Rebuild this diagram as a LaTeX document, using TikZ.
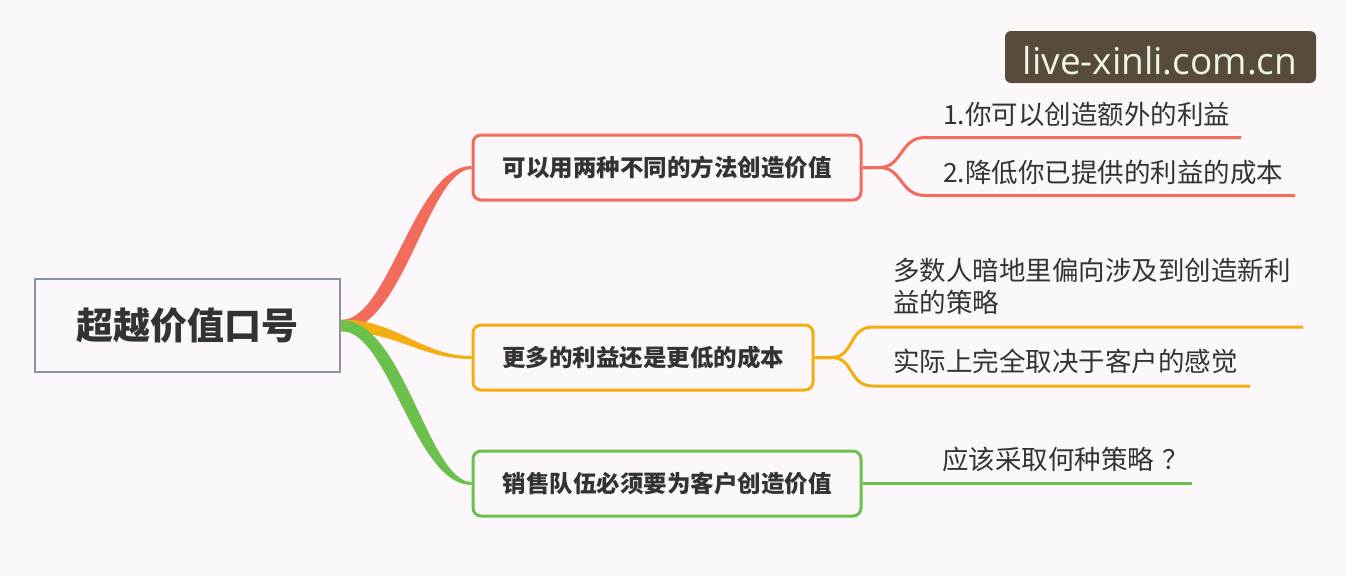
\documentclass[tikz,border=0pt]{standalone}
\usepackage{fontspec}
\newfontfamily\cjk{Noto Sans CJK SC}
\newfontfamily\wmfont{Open Sans}
\usetikzlibrary{calc}
\definecolor{bg}{HTML}{FBF7FA}
\definecolor{cred}{HTML}{F26B5B}
\definecolor{corg}{HTML}{F6AD12}
\definecolor{cgrn}{HTML}{6CC04C}
\definecolor{cgray}{HTML}{8893A4}
\definecolor{txt}{HTML}{333333}
\definecolor{wmbg}{HTML}{574C3B}
\definecolor{wmfg}{HTML}{EEF5E6}
\newcommand\branchtaper[5]{%
  \fill[#3] ($(#1)+(0,-#5)$) .. controls ($(#1)+({55+(#4)},-#5)$) and ($(#2)+({-50+(#4)},-1.5)$) .. ($(#2)+(0,-1.5)$)
    -- ($(#2)+(0,1.5)$) .. controls ($(#2)+({-50-(#4)},1.5)$) and ($(#1)+({55-(#4)},#5)$) .. ($(#1)+(0,#5)$) -- cycle;}
\begin{document}
\begin{tikzpicture}[x=1pt,y=-1pt,
  rootbox/.style={draw=cgray, line width=2.5pt, fill=bg, minimum width=305pt, minimum height=93pt, inner sep=0pt,
    font=\cjk\bfseries\fontsize{37}{40}\selectfont, text=txt},
  branchbox/.style={draw=#1, line width=3pt, rounded corners=8pt, fill=bg, minimum height=65pt, inner sep=0pt,
    font=\cjk\bfseries\fontsize{23.5}{26}\selectfont, text=txt},
  leaf/.style={anchor=west, inner sep=0pt, font=\cjk\fontsize{26.5}{32}\selectfont, text=txt, align=left},
  leafline/.style={draw=#1, line width=3pt},
]
\fill[bg] (0,0) rectangle (1346,576);
\useasboundingbox (0,0) rectangle (1346,576);

% nodes
\node[rootbox] (root) at (187.5,325.5) {};
\node[branchbox=cred, minimum width=388pt] (b1) at (667,167.5) {可以用两种不同的方法创造价值};
\node[branchbox=corg, minimum width=340pt] (b2) at (643,357.5) {更多的利益还是更低的成本};
\node[branchbox=cgrn, minimum width=388pt] (b3) at (667,483.5) {销售队伍必须要为客户创造价值};

% main tapered branches
\branchtaper{root.east}{b1.west}{cred}{-7}{5.5}
\branchtaper{root.east}{b2.west}{corg}{0}{6}
\branchtaper{root.east}{b3.west}{cgrn}{7}{5.5}
\node[rootbox] (rootcover) at (root) {超越价值口号};

% leaf line ends
\coordinate (l1s) at (925,137.5);  \coordinate (l1e) at (1241,137.5);
\coordinate (l2s) at (925,195.5);  \coordinate (l2e) at (1295,195.5);
\coordinate (l3s) at (873,327);    \coordinate (l3e) at (1303,327);
\coordinate (l4s) at (873,386);    \coordinate (l4e) at (1250,386);
\coordinate (l5e) at (1192,483.5);

\draw[leafline=cred] (b1.east) -- ($(b1.east)+(17,0)$) .. controls ($(b1.east)+(40,0)$) and ($(l1s)+(-25,0)$) .. (l1s) -- (l1e);
\draw[leafline=cred] (b1.east) -- ($(b1.east)+(17,0)$) .. controls ($(b1.east)+(40,0)$) and ($(l2s)+(-25,0)$) .. (l2s) -- (l2e);
\draw[leafline=corg] (b2.east) -- ($(b2.east)+(17,0)$) .. controls ($(b2.east)+(40,0)$) and ($(l3s)+(-25,0)$) .. (l3s) -- (l3e);
\draw[leafline=corg] (b2.east) -- ($(b2.east)+(17,0)$) .. controls ($(b2.east)+(40,0)$) and ($(l4s)+(-25,0)$) .. (l4s) -- (l4e);
\draw[leafline=cgrn] (b3.east) -- (l5e);

% leaf texts
\node[leaf] (t1) at (943,114) {1.你可以创造额外的利益};
\node[leaf] (t2) at (943,172) {2.降低你已提供的利益的成本};
\node[leaf] (t3) at (893,286) {多数人暗地里偏向涉及到创造新利\\益的策略};
\node[leaf] (t4) at (893,361) {实际上完全取决于客户的感觉};
\node[leaf] (t5) at (942,459) {应该采取何种策略\hspace{8pt}？};

% watermark
\node[fill=wmbg, rounded corners=6pt, minimum width=311pt, minimum height=52pt, inner sep=0pt] (wm) at (1160.5,57) {};
\node[text=wmfg, inner sep=0pt, font=\wmfont\fontsize{37}{40}\selectfont] (wmtext) at (1160,61) {live-xinli.com.cn};
\end{tikzpicture}
\end{document}
